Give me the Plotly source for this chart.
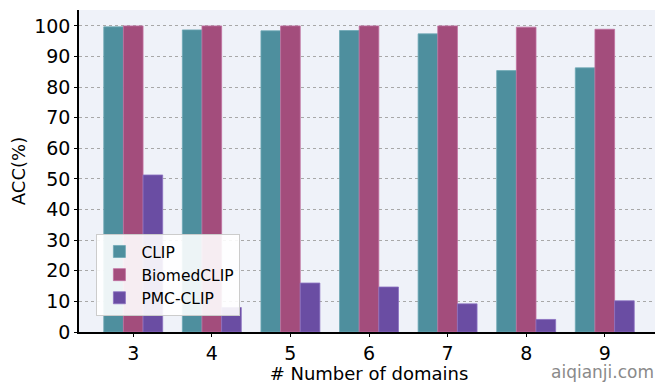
import plotly.graph_objects as go

categories = ["3", "4", "5", "6", "7", "8", "9"]
clip = [99.7, 98.7, 98.4, 98.5, 97.4, 85.4, 86.3]
biomedclip = [100.0, 100.0, 100.0, 100.0, 100.0, 99.6, 98.9]
pmcclip = [51.3, 8.0, 16.0, 14.7, 9.2, 4.1, 10.2]
y_ticks = list(range(0, 101, 10))

series = [
    ("CLIP", clip, "#4E8F9E", "#6FA8B5"),
    ("BiomedCLIP", biomedclip, "#A34D7C", "#C070A0"),
    ("PMC-CLIP", pmcclip, "#6A4DA3", "#8A70C0"),
]

fig = go.Figure()
for name, vals, col, edge in series:
    fig.add_trace(go.Bar(
        x=categories, y=vals, name=name,
        marker=dict(color=col, line=dict(color=edge, width=0.8)),
    ))

fig.update_layout(
    width=655, height=376,
    margin=dict(l=71, r=4, t=2, b=52, autoexpand=False),
    paper_bgcolor="white",
    plot_bgcolor="#EFF2F9",
    barmode="group", bargap=0.25, bargroupgap=0,
    font=dict(family="DejaVu Sans", size=18, color="black"),
    showlegend=True,
    legend=dict(
        x=0.03, y=0.05, xanchor="left", yanchor="bottom",
        bgcolor="rgba(255,255,255,0.9)", bordercolor="#CCCCCC", borderwidth=1,
        font=dict(size=15.5), itemwidth=34, tracegroupgap=0,
    ),
    xaxis=dict(
        title=dict(text="# Number of domains", font=dict(size=18), standoff=2),
        range=[-0.69, 6.69],
        showline=True, linecolor="black", linewidth=1.5, mirror=False,
        ticks="outside", ticklen=3, tickcolor="black", showgrid=False, zeroline=False,
        tickfont=dict(size=19),
    ),
    yaxis=dict(
        title=dict(text="ACC(%)", font=dict(size=18), standoff=8),
        range=[0, 105.2], tickvals=y_ticks,
        showline=True, linecolor="black", linewidth=1.5, mirror=False,
        ticks="outside", ticklen=3, tickcolor="black",
        showgrid=True, gridcolor="#A8A8A8", griddash="dot", gridwidth=1,
        zeroline=False, tickfont=dict(size=19),
    ),
    shapes=[dict(type="line", xref="paper", yref="paper", x0=1, x1=1, y0=0, y1=1,
                 line=dict(color="black", width=1.5))],
    annotations=[dict(text="aiqianji.com", xref="paper", yref="paper", x=0.995, y=-0.088,
                      xanchor="right", yanchor="top", showarrow=False,
                      font=dict(size=17, color="#8A8A8A", family="DejaVu Sans"))],
)

fig.write_html("out.html")
